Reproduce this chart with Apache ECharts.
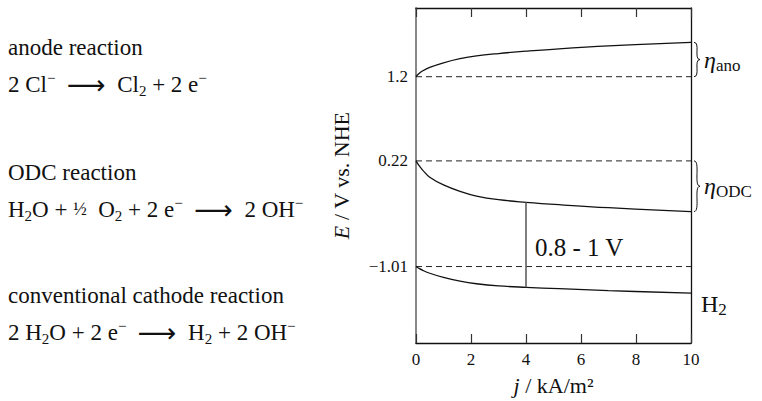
<!DOCTYPE html>
<html><head><meta charset="utf-8">
<script src="https://cdn.jsdelivr.net/npm/echarts@6/dist/echarts.min.js"></script>
<style>html,body{margin:0;padding:0;background:#fff}#c{width:762px;height:401px}</style>
</head><body><div id="c"></div>
<script>
// ---- data ----
const jValues = [0, 0.1, 0.25, 0.5, 1, 1.6, 2.2, 3, 4, 5.2, 7, 10];
const anodeE  = [1.2, 1.235, 1.27, 1.309, 1.362, 1.41, 1.443, 1.47, 1.497, 1.525, 1.558, 1.60];
const odcE    = [0.22, 0.17, 0.11, 0.03, -0.06, -0.135, -0.19, -0.232, -0.262, -0.29, -0.325, -0.37];
const h2E     = [-1.01, -1.03, -1.055, -1.088, -1.137, -1.18, -1.21, -1.235, -1.252, -1.268, -1.29, -1.32];
const refLevels = [1.2, 0.22, -1.01];
const yTickLabels = ['1.2', '0.22', '\u22121.01'];
const xTickLabels = ['0', '2', '4', '6', '8', '10'];
const xMin = 0, xMax = 10, xStep = 2;
const yMin = -1.9, yMax = 2.0;
const gapJ = 4;
const gapLabel = '0.8 - 1 V';

const FONT = 'Liberation Serif';
const INK = '#111';

const chart = echarts.init(document.getElementById('c'), null, {renderer: 'svg'});

const curve = (arr) => jValues.map((j, i) => [j, arr[i]]);
const gapIdx = jValues.indexOf(gapJ);

const series = [];
refLevels.forEach(v => series.push({
  type: 'line', data: [[xMin, v], [xMax, v]], showSymbol: false, silent: true,
  lineStyle: {color: '#222', width: 1, type: [6, 4]}
}));
[anodeE, odcE, h2E].forEach(arr => series.push({
  type: 'line', data: curve(arr), showSymbol: false, silent: true,
  smooth: 0.4,
  lineStyle: {color: INK, width: 1.3}
}));
series.push({
  type: 'line', data: [[gapJ, odcE[gapIdx]], [gapJ, h2E[gapIdx]]], showSymbol: false, silent: true,
  lineStyle: {color: '#555', width: 1.5}
});

const titleStyle = {fontFamily: FONT, fontSize: 22, color: INK,
  rich: {i: {fontStyle: 'italic', fontFamily: FONT, fontSize: 22, color: INK}}};

chart.setOption({
  animation: false,
  backgroundColor: '#fff',
  grid: {left: 416, right: 71, top: 8, height: 337},
  xAxis: [{
    type: 'value', min: xMin, max: xMax, interval: xStep, position: 'bottom',
    name: '{i|j} / kA/m\u00b2', nameLocation: 'middle', nameGap: 31,
    nameTextStyle: titleStyle,
    axisLine: {onZero: false, lineStyle: {color: INK, width: 1.3}},
    axisTick: {inside: true, length: 9, lineStyle: {color: '#333', width: 1.2}},
    axisLabel: {fontFamily: FONT, fontSize: 17, color: INK, margin: 8,
      formatter: v => xTickLabels[Math.round((v - xMin) / xStep)]},
    splitLine: {show: false}
  }, {
    type: 'value', min: xMin, max: xMax, interval: xStep, position: 'top',
    axisLine: {onZero: false, lineStyle: {color: INK, width: 1.3}},
    axisTick: {inside: true, length: 9, lineStyle: {color: '#333', width: 1.2}},
    axisLabel: {show: false}, splitLine: {show: false}
  }],
  yAxis: [{
    type: 'value', min: yMin, max: yMax, position: 'left',
    name: '{i|E} / V vs. NHE', nameLocation: 'middle', nameGap: 64,
    nameTextStyle: titleStyle,
    axisLine: {onZero: false, lineStyle: {color: '#888', width: 2}},
    axisTick: {show: false},
    axisLabel: {fontFamily: FONT, fontSize: 17, color: INK, margin: 8, customValues: refLevels,
      formatter: v => { const k = refLevels.findIndex(r => Math.abs(r - v) < 1e-6); return k >= 0 ? yTickLabels[k] : ''; }},
    splitLine: {show: false}
  }, {
    type: 'value', min: yMin, max: yMax, position: 'right',
    axisLine: {show: true, onZero: false, lineStyle: {color: INK, width: 1.3}},
    axisTick: {show: false}, axisLabel: {show: false}, splitLine: {show: false}
  }],
  series: series
});

const P = (x, y) => chart.convertToPixel({xAxisIndex: 0, yAxisIndex: 0}, [x, y]);

function brace(x, y1, y2, w) {
  const ym = (y1 + y2) / 2;
  const st = {fill: 'none', stroke: INK, lineWidth: 1};
  return [
    {type: 'bezierCurve', silent: true, style: st,
     shape: {x1: x, y1: y1, cpx1: x + w * 1.1, cpy1: y1, cpx2: x - w * 0.1, cpy2: ym, x2: x + w, y2: ym}},
    {type: 'bezierCurve', silent: true, style: st,
     shape: {x1: x + w, y1: ym, cpx1: x - w * 0.1, cpy1: ym, cpx2: x + w * 1.1, cpy2: y2, x2: x, y2: y2}}
  ];
}

const last = jValues.length - 1;
const aTop = P(xMax, anodeE[last]), aBot = P(xMax, refLevels[0]);
const oTop = P(xMax, refLevels[1]), oBot = P(xMax, odcE[last]);
const hEnd = P(xMax, h2E[last]);
const gTop = P(gapJ, odcE[gapIdx]), gBot = P(gapJ, h2E[gapIdx]);

const baseRich = {
  sub: {fontFamily: FONT, fontSize: 15, color: INK, verticalAlign: 'bottom', lineHeight: 14},
  sup: {fontFamily: FONT, fontSize: 15, color: INK, verticalAlign: 'top', lineHeight: 18},
  es: {fontFamily: FONT, fontSize: 17, color: INK, verticalAlign: 'bottom', lineHeight: 15},
  ar: {fontFamily: 'DejaVu Sans', fontSize: 27, color: INK, lineHeight: 28},
  fr: {fontFamily: FONT, fontSize: 18, color: INK, lineHeight: 28},
  eta: {fontFamily: FONT, fontSize: 24, fontStyle: 'italic', color: INK, lineHeight: 28}
};
function txt(x, y, text, size) {
  return {type: 'text', x: x, y: y, silent: true, style: {
    text: text, fontFamily: FONT, fontSize: size || 23, fill: INK, lineHeight: 28,
    align: 'left', verticalAlign: 'middle', rich: baseRich}};
}

const bx = aTop[0] + 3;
chart.setOption({graphic: [].concat(
  brace(bx, aTop[1], aBot[1], 6),
  brace(bx, oTop[1], oBot[1], 6),
  [
    txt(bx + 10, (aTop[1] + aBot[1]) / 2, '{eta|\u03b7}{es|ano}', 23),
    txt(bx + 10, (oTop[1] + oBot[1]) / 2, '{eta|\u03b7}{es|ODC}', 23),
    txt(hEnd[0] + 10, hEnd[1] + 11, 'H{es|2}', 24),
    txt(gTop[0] + 9, (gTop[1] + gBot[1]) / 2 + 3, gapLabel, 25),
    txt(8, 47, 'anode reaction'),
    txt(8, 84, '2 Cl{sup|\u2212}  {ar|\u27f6}  Cl{sub|2} + 2 e{sup|\u2212}'),
    txt(8, 172, 'ODC reaction'),
    txt(8, 209, 'H{sub|2}O + {fr|\u00bd}  O{sub|2} + 2 e{sup|\u2212}  {ar|\u27f6}  2 OH{sup|\u2212}'),
    txt(8, 295, 'conventional cathode reaction'),
    txt(8, 332, '2 H{sub|2}O + 2 e{sup|\u2212}  {ar|\u27f6}  H{sub|2} + 2 OH{sup|\u2212}')
  ]
)});
</script>
</body></html>
